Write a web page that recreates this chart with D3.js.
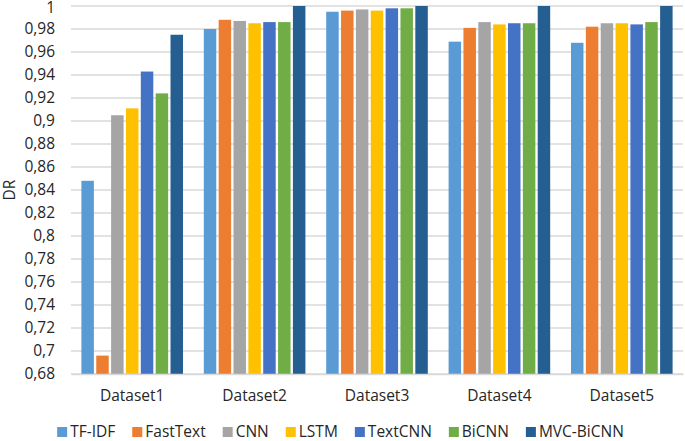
<!DOCTYPE html>
<html>
<head>
<meta charset="utf-8">
<script src="https://cdn.jsdelivr.net/npm/d3@7"></script>
<style>
  html, body { margin: 0; padding: 0; background: #fff; }
  svg { display: block; font-family: "Open Sans", "Noto Sans", sans-serif; }
</style>
</head>
<body>
<svg id="chart" width="685" height="441"></svg>
<script>
const categories = ["Dataset1", "Dataset2", "Dataset3", "Dataset4", "Dataset5"];
const seriesNames = ["TF-IDF", "FastText", "CNN", "LSTM", "TextCNN", "BiCNN", "MVC-BiCNN"];
const seriesColors = ["#5B9BD5", "#ED7D31", "#A5A5A5", "#FFC000", "#4472C4", "#70AD47", "#255E91"];
// values per series, in category order
const tfidf     = [0.848, 0.980, 0.995, 0.969, 0.968];
const fasttext  = [0.696, 0.988, 0.996, 0.981, 0.982];
const cnn       = [0.905, 0.987, 0.997, 0.986, 0.985];
const lstm      = [0.911, 0.985, 0.996, 0.984, 0.985];
const textcnn   = [0.943, 0.986, 0.998, 0.985, 0.984];
const bicnn     = [0.924, 0.986, 0.998, 0.985, 0.986];
const mvcbicnn  = [0.975, 1.000, 1.000, 1.000, 1.000];
const yTicks = [0.68, 0.70, 0.72, 0.74, 0.76, 0.78, 0.80, 0.82, 0.84, 0.86, 0.88, 0.90, 0.92, 0.94, 0.96, 0.98, 1.00];
const yTickLabels = ["0,68", "0,7", "0,72", "0,74", "0,76", "0,78", "0,8", "0,82", "0,84", "0,86", "0,88", "0,9", "0,92", "0,94", "0,96", "0,98", "1"];
const yLabel = "DR";

const seriesValues = [tfidf, fasttext, cnn, lstm, textcnn, bicnn, mvcbicnn];
const table = categories.map((c, i) => ({
  category: c,
  values: seriesNames.map((s, j) => ({ series: s, color: seriesColors[j], value: seriesValues[j][i] }))
}));

const svg = d3.select("#chart");
const mLeft = 71, mRight = 683, mTop = 6, mBottom = 374;
const textColor = "#262626";
const gridColor = "#d9d9d9";
const fs = "15.5px";

const y = d3.scaleLinear().domain([0.68, 1]).range([mBottom, mTop]);
const x0 = d3.scaleBand().domain(categories).range([mLeft, mRight]).paddingInner(0.17).paddingOuter(0.085);
const x1 = d3.scaleBand().domain(seriesNames).range([0, x0.bandwidth()]).paddingInner(0.16).paddingOuter(0);

// gridlines
svg.append("g").selectAll("line").data(yTicks).join("line")
  .attr("x1", mLeft).attr("x2", mRight)
  .attr("y1", d => y(d)).attr("y2", d => y(d))
  .attr("stroke", gridColor).attr("stroke-width", 1.3);

// y axis labels
const yAxis = d3.axisLeft(y).tickValues(yTicks).tickSize(0).tickPadding(0)
  .tickFormat((d, i) => yTickLabels[i]);
const yg = svg.append("g").attr("transform", `translate(${55},0)`).call(yAxis);
yg.select(".domain").remove();
yg.selectAll("text").attr("fill", textColor).style("font-size", fs)
  .style("font-family", "'Open Sans', sans-serif")
  .attr("dy", (d, i) => i === yTicks.length - 1 ? "0.42em" : "0.32em");

// y axis title
svg.append("text")
  .attr("transform", `translate(15, ${(mTop + mBottom) / 2}) rotate(-90)`)
  .attr("text-anchor", "middle")
  .attr("fill", textColor).style("font-size", fs)
  .text(yLabel);

// bars
const groups = svg.append("g").selectAll("g").data(table).join("g")
  .attr("transform", d => `translate(${x0(d.category)},0)`);
groups.selectAll("rect").data(d => d.values).join("rect")
  .attr("x", d => x1(d.series))
  .attr("width", x1.bandwidth())
  .attr("y", d => y(d.value))
  .attr("height", d => y(0.68) - y(d.value))
  .attr("fill", d => d.color);

// x axis
const xAxis = d3.axisBottom(x0).tickSize(0).tickPadding(16);
const xg = svg.append("g").attr("transform", `translate(0,${mBottom})`).call(xAxis);
xg.select(".domain").attr("stroke", gridColor).attr("stroke-width", 1.3);
xg.selectAll("text").attr("fill", textColor).style("font-size", fs)
  .style("font-family", "'Open Sans', sans-serif");

// legend
const legend = svg.append("g");
const items = legend.selectAll("g").data(seriesNames).join("g");
items.append("rect").attr("width", 10).attr("height", 10).attr("y", -10)
  .attr("fill", (d, i) => seriesColors[i]);
items.append("text").attr("x", 13).attr("y", 0)
  .attr("fill", textColor).style("font-size", fs).text(d => d);
let cx = 0;
items.each(function () {
  const g = d3.select(this);
  g.attr("transform", `translate(${cx},0)`);
  const w = g.select("text").node().getComputedTextLength();
  cx += 13 + w + 17;
});
const totalW = cx - 17;
legend.attr("transform", `translate(${340.5 - totalW / 2}, 437)`);
</script>
</body>
</html>
